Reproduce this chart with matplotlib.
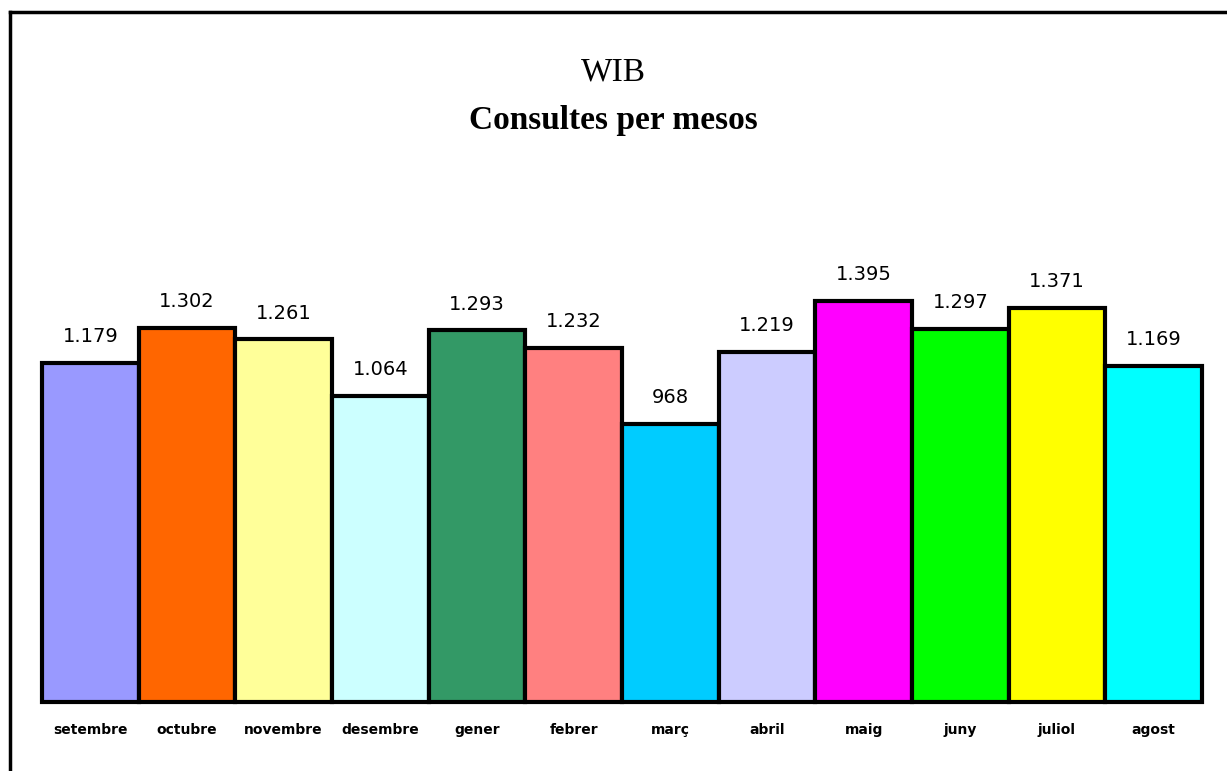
import matplotlib
matplotlib.use("Agg")
import matplotlib.pyplot as plt
from matplotlib.lines import Line2D

# data
months = ["setembre", "octubre", "novembre", "desembre", "gener", "febrer",
          "març", "abril", "maig", "juny", "juliol", "agost"]
consultes = [1179, 1302, 1261, 1064, 1293, 1232, 968, 1219, 1395, 1297, 1371, 1169]
colors = ["#9999FF", "#FF6600", "#FFFF99", "#CCFFFF", "#339966", "#FF8080",
          "#00CCFF", "#CCCCFF", "#FF00FF", "#00FF00", "#FFFF00", "#00FFFF"]


def fmt(v):
  # catalan thousands separator
  return "{:,}".format(v).replace(",", ".")


fig = plt.figure(figsize=(12.27, 7.71), dpi=100)
W, H = 1227, 771

# axes placed in pixel coordinates
ymax = 1600
px_per_unit = 0.2875
left, right, base = 42, 1202, 702
top = base - ymax * px_per_unit
ax = fig.add_axes([left / W, 1 - base / H, (right - left) / W, (base - top) / H])

x = range(len(months))
bars = ax.bar(x, consultes, width=1.0, color=colors, edgecolor="black", linewidth=3)
for b in bars:
  b.set_clip_on(False)
ax.set_xlim(-0.5, len(months) - 0.5)
ax.set_ylim(0, ymax)
ax.axis("off")

for i, v in enumerate(consultes):
  ax.annotate(fmt(v), (i, v), xytext=(0, 12), textcoords="offset points",
              ha="center", va="bottom", fontsize=14, family="DejaVu Sans")
  ax.annotate(months[i], (i, 0), xytext=(0, -15), textcoords="offset points",
              ha="center", va="top", fontsize=10, fontweight="bold",
              family="DejaVu Sans")

# titles
fig.text(0.5, 1 - 72 / H, "WIB", ha="center", va="center",
         fontsize=24, family="Liberation Serif")
fig.text(0.5, 1 - 120 / H, "Consultes per mesos", ha="center", va="center",
         fontsize=24, fontweight="bold", family="Liberation Serif")

# frame on top and left edges
fig.add_artist(Line2D([10 / W, 1], [1 - 12 / H, 1 - 12 / H], color="black", lw=2.5))
fig.add_artist(Line2D([10 / W, 10 / W], [0, 1 - 12 / H], color="black", lw=2.5))

fig.savefig("out.png", dpi=100)
